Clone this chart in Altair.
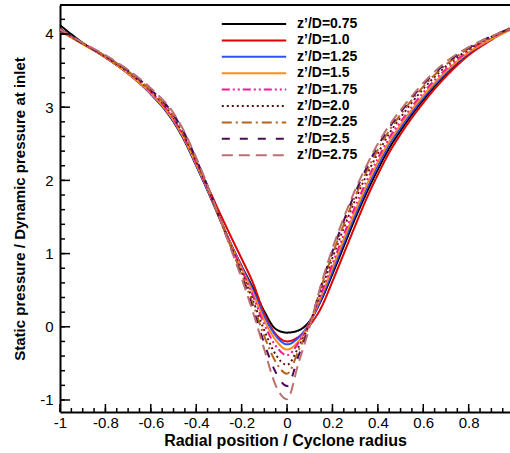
import altair as alt
import pandas as pd

# ---------------- data ----------------
x_pos = [-1.0, -0.9, -0.8, -0.7, -0.6, -0.5, -0.45, -0.4, -0.35, -0.3, -0.25, -0.2, -0.15, -0.1, -0.05,
         0.0, 0.05, 0.1, 0.15, 0.2, 0.25, 0.3, 0.35, 0.4, 0.45, 0.5, 0.6, 0.7, 0.8, 0.9, 0.98]

series_labels = ["z’/D=0.75", "z’/D=1.0", "z’/D=1.25", "z’/D=1.5", "z’/D=1.75",
                 "z’/D=2.0", "z’/D=2.25", "z’/D=2.5", "z’/D=2.75"]

z075 = [4.12, 3.88, 3.68, 3.46, 3.18, 2.80, 2.53, 2.20, 1.86, 1.50, 1.15, 0.83, 0.53, 0.21, -0.03,
        -0.08, -0.05, 0.08, 0.36, 0.72, 1.10, 1.48, 1.83, 2.15, 2.44, 2.68, 3.10, 3.45, 3.73, 3.93, 4.08]
z100 = [4.07, 3.87, 3.68, 3.46, 3.19, 2.82, 2.56, 2.25, 1.92, 1.58, 1.25, 0.93, 0.60, 0.18, -0.10,
        -0.20, -0.14, 0.02, 0.26, 0.62, 1.00, 1.38, 1.75, 2.08, 2.38, 2.63, 3.06, 3.42, 3.71, 3.92, 4.07]
z125 = [4.06, 3.87, 3.68, 3.46, 3.18, 2.81, 2.54, 2.21, 1.87, 1.51, 1.15, 0.82, 0.50, 0.14, -0.12,
        -0.24, -0.15, 0.06, 0.38, 0.76, 1.15, 1.53, 1.88, 2.20, 2.49, 2.72, 3.13, 3.47, 3.74, 3.93, 4.06]
z150 = [4.04, 3.86, 3.68, 3.46, 3.19, 2.82, 2.55, 2.22, 1.88, 1.51, 1.14, 0.80, 0.46, 0.09, -0.18,
        -0.31, -0.20, 0.06, 0.42, 0.81, 1.20, 1.58, 1.93, 2.25, 2.53, 2.76, 3.16, 3.49, 3.75, 3.93, 4.05]
z175 = [4.05, 3.87, 3.69, 3.48, 3.21, 2.84, 2.57, 2.24, 1.89, 1.51, 1.13, 0.78, 0.42, 0.03, -0.26,
        -0.39, -0.22, 0.06, 0.45, 0.86, 1.26, 1.64, 1.99, 2.30, 2.58, 2.80, 3.20, 3.52, 3.77, 3.95, 4.06]
z200 = [4.06, 3.87, 3.69, 3.48, 3.22, 2.86, 2.59, 2.26, 1.90, 1.51, 1.12, 0.75, 0.36, -0.05, -0.38,
        -0.52, -0.28, 0.05, 0.50, 0.94, 1.35, 1.73, 2.07, 2.37, 2.64, 2.86, 3.25, 3.56, 3.79, 3.96, 4.06]
z225 = [4.05, 3.87, 3.70, 3.49, 3.23, 2.88, 2.61, 2.27, 1.91, 1.51, 1.11, 0.72, 0.31, -0.13, -0.48,
        -0.64, -0.33, 0.04, 0.54, 0.99, 1.40, 1.78, 2.12, 2.42, 2.68, 2.90, 3.28, 3.58, 3.80, 3.96, 4.06]
z250 = [4.05, 3.87, 3.70, 3.50, 3.24, 2.90, 2.63, 2.29, 1.92, 1.51, 1.10, 0.69, 0.25, -0.23, -0.62,
        -0.81, -0.40, 0.02, 0.56, 1.03, 1.45, 1.83, 2.17, 2.47, 2.72, 2.93, 3.31, 3.60, 3.81, 3.97, 4.07]
z275 = [4.06, 3.88, 3.71, 3.51, 3.26, 2.92, 2.65, 2.31, 1.93, 1.51, 1.09, 0.66, 0.20, -0.31, -0.80,
        -0.99, -0.50, 0.00, 0.58, 1.07, 1.49, 1.87, 2.20, 2.50, 2.75, 2.96, 3.33, 3.62, 3.82, 3.97, 4.07]

series_values = [z075, z100, z125, z150, z175, z200, z225, z250, z275]

x_major_ticks = [-1, -0.8, -0.6, -0.4, -0.2, 0, 0.2, 0.4, 0.6, 0.8]
x_minor_ticks = [round(-1 + 0.05 * i, 2) for i in range(40)]
y_major_ticks = [-1, 0, 1, 2, 3, 4]
y_minor_ticks = [round(-1 + 0.2 * i, 1) for i in range(27)]

# ---------------- styles ----------------
colors = ["#000000", "#e00000", "#3050ff", "#ff8c1a", "#ff1493",
          "#5c1010", "#b8651b", "#4b0a5a", "#bc7070"]
dashes = [[1, 0], [1, 0], [1, 0], [1, 0], [8, 3, 2, 3, 2, 3],
          [2, 3], [10, 4, 2, 4], [8, 10], [11, 6]]

W, H = 450, 407
FONT = "Liberation Sans"

rows = []
for lab, vals in zip(series_labels, series_values):
    for xv, yv in zip(x_pos, vals):
        rows.append({"r": xv, "p": yv, "series": lab})
df = pd.DataFrame(rows)

xscale = alt.Scale(domain=[-1, 0.982], nice=False, zero=False)
yscale = alt.Scale(domain=[-1.164, 4.396], nice=False, zero=False)

x_axis = alt.Axis(values=x_major_ticks, ticks=False, grid=False, domain=True,
                  domainColor="black", domainWidth=2, labelFont=FONT,
                  labelFontSize=15, labelColor="black", labelPadding=3,
                  labelExpr="'' + datum.value", labelFlush=False,
                  title="Radial position / Cyclone radius", titleFont=FONT,
                  titleFontSize=16, titleFontWeight="bold", titleColor="black",
                  titlePadding=2)
y_axis = alt.Axis(values=y_major_ticks, ticks=False, grid=False, domain=True,
                  domainColor="black", domainWidth=2, labelFont=FONT,
                  labelFontSize=15, labelColor="black", labelPadding=7,
                  labelExpr="'' + datum.value", labelFlush=False,
                  title="Static pressure / Dynamic pressure at inlet",
                  titleFont=FONT, titleFontSize=15, titleFontWeight="bold",
                  titleColor="black", titlePadding=12)

legend = alt.Legend(
    title=None, orient="none", legendX=186, legendY=11, symbolType="M-4.6,0H4.6",
    symbolSize=196, symbolStrokeWidth=2, labelFont=FONT, labelFontSize=14,
    labelFontWeight="bold", labelColor="black", labelOffset=35, rowPadding=1.4,
    padding=0,
)

lines = alt.Chart(df).mark_line(strokeWidth=2, interpolate="monotone").encode(
    x=alt.X("r:Q", scale=xscale, axis=x_axis),
    y=alt.Y("p:Q", scale=yscale, axis=y_axis),
    color=alt.Color("series:N", scale=alt.Scale(domain=series_labels, range=colors),
                    legend=legend),
    strokeDash=alt.StrokeDash("series:N", scale=alt.Scale(domain=series_labels, range=dashes),
                              legend=legend),
)

def xticks(vals, length):
    return alt.Chart(pd.DataFrame({"r": vals})).mark_rule(color="black", strokeWidth=1.5).encode(
        x=alt.X("r:Q", scale=xscale, axis=x_axis),
        y=alt.value(H), y2=alt.value(H - length))

def yticks(vals, length):
    return alt.Chart(pd.DataFrame({"p": vals})).mark_rule(color="black", strokeWidth=1.5).encode(
        y=alt.Y("p:Q", scale=yscale, axis=y_axis),
        x=alt.value(0), x2=alt.value(length))

top_border = alt.Chart(pd.DataFrame({"a": [0]})).mark_rule(color="black", strokeWidth=2).encode(
    x=alt.value(0), x2=alt.value(W), y=alt.value(0))

chart = alt.layer(
    lines,
    xticks(x_minor_ticks, 4), xticks(x_major_ticks, 8),
    yticks(y_minor_ticks, 5), yticks(y_major_ticks, 10),
    top_border,
).properties(
    width=W, height=H,
    autosize=alt.AutoSizeParams(type="none"),
    padding={"left": 60, "top": 5, "right": 0, "bottom": 41},
).configure_view(stroke=None).configure(background="white")

chart.save("out.html", embed_options={"renderer": "svg", "actions": False})
